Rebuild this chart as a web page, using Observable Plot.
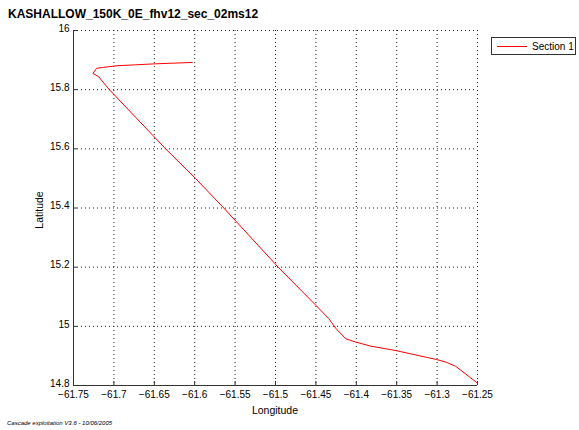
<!DOCTYPE html>
<html>
<head>
<meta charset="utf-8">
<script src="https://cdn.jsdelivr.net/npm/d3@7"></script>
<script src="https://cdn.jsdelivr.net/npm/@observablehq/plot@0.6"></script>
<style>
  html, body { margin: 0; padding: 0; background: #fff; }
  #wrap { position: relative; width: 579px; height: 430px; font-family: "Liberation Sans", Arial, sans-serif; }
  #wrap svg { position: absolute; left: 0; top: 0; }
  .abs { position: absolute; white-space: nowrap; color: #000; }
  #title { left: 8px; top: 7px; font-size: 12px; font-weight: bold; }
  #xlabel { left: 0; width: 550px; text-align: center; top: 404px; font-size: 10.5px; }
  #ylabel { left: 39px; top: 210px; font-size: 10.5px; transform: translate(-50%, -50%) rotate(-90deg); }
  #caption { left: 7px; top: 420px; font-size: 6px; font-style: italic; }
  #legend { left: 491px; top: 37px; width: 85px; height: 18px; border: 1px solid #333; box-sizing: border-box; background: #fff; }
  #legend .sw { position: absolute; left: 5px; top: 8px; width: 30px; height: 0; border-top: 1px solid #f00; }
  #legend .lt { position: absolute; left: 40px; top: 3px; font-size: 10px; }
</style>
</head>
<body>
<div id="wrap">
  <div id="chart"></div>
  <div class="abs" id="title">KASHALLOW_150K_0E_fhv12_sec_02ms12</div>
  <div class="abs" id="xlabel">Longitude</div>
  <div class="abs" id="ylabel">Latitude</div>
  <div class="abs" id="caption">Cascade exploitation V3.6 - 10/06/2005</div>
  <div class="abs" id="legend"><div class="sw"></div><div class="lt">Section 1</div></div>
</div>
<script>
const seriesName = "Section 1";
const lon = [-61.603, -61.652, -61.673, -61.696, -61.714, -61.7215, -61.726, -61.719,
  -61.706, -61.652, -61.636, -61.599, -61.564, -61.496, -61.450, -61.434, -61.425,
  -61.413, -61.401, -61.382, -61.351, -61.301, -61.289, -61.277, -61.250];
const lat = [15.892, 15.887, 15.884, 15.881, 15.875, 15.872, 15.855, 15.844,
  15.801, 15.646, 15.600, 15.500, 15.400, 15.198, 15.071, 15.026, 14.992,
  14.958, 14.947, 14.933, 14.918, 14.888, 14.879, 14.865, 14.808];
const xTicks = [-61.75, -61.7, -61.65, -61.6, -61.55, -61.5, -61.45, -61.4, -61.35, -61.3, -61.25];
const yTicks = [14.8, 15, 15.2, 15.4, 15.6, 15.8, 16];

const track = lon.map((x, i) => ({lon: x, lat: lat[i]}));
const fmt = d => (d < 0 ? "\u2212" : "") + String(Math.abs(d));

const chart = Plot.plot({
  width: 579,
  height: 430,
  marginLeft: 73,
  marginRight: 102,
  marginTop: 30,
  marginBottom: 45,
  style: {fontFamily: "Liberation Sans, Arial, sans-serif", fontSize: "10px", background: "transparent", color: "#000"},
  x: {domain: [-61.75, -61.25], ticks: xTicks, tickFormat: fmt, label: null},
  y: {domain: [14.8, 16], ticks: yTicks, tickFormat: fmt, label: null},
  marks: [
    Plot.ruleX(xTicks, {stroke: "#222", strokeDasharray: "1,3"}),
    Plot.ruleY(yTicks, {stroke: "#222", strokeDasharray: "1,3"}),
    Plot.axisX({ticks: xTicks, tickFormat: fmt, tickSize: -4, tickPadding: 9, label: null, stroke: "#333"}),
    Plot.axisY({ticks: yTicks, tickFormat: () => "", tickSize: -4, label: null, stroke: "#333"}),
    Plot.axisY({ticks: yTicks, tickFormat: fmt, tickSize: 0, tickPadding: 4, dy: -2, label: null}),
    Plot.ruleX([-61.75], {stroke: "#333"}),
    Plot.ruleY([14.8], {stroke: "#333"}),
    Plot.line(track, {x: "lon", y: "lat", stroke: "#f00", strokeWidth: 1, curve: "linear"})
  ]
});
document.getElementById("chart").appendChild(chart);
</script>
</body>
</html>
